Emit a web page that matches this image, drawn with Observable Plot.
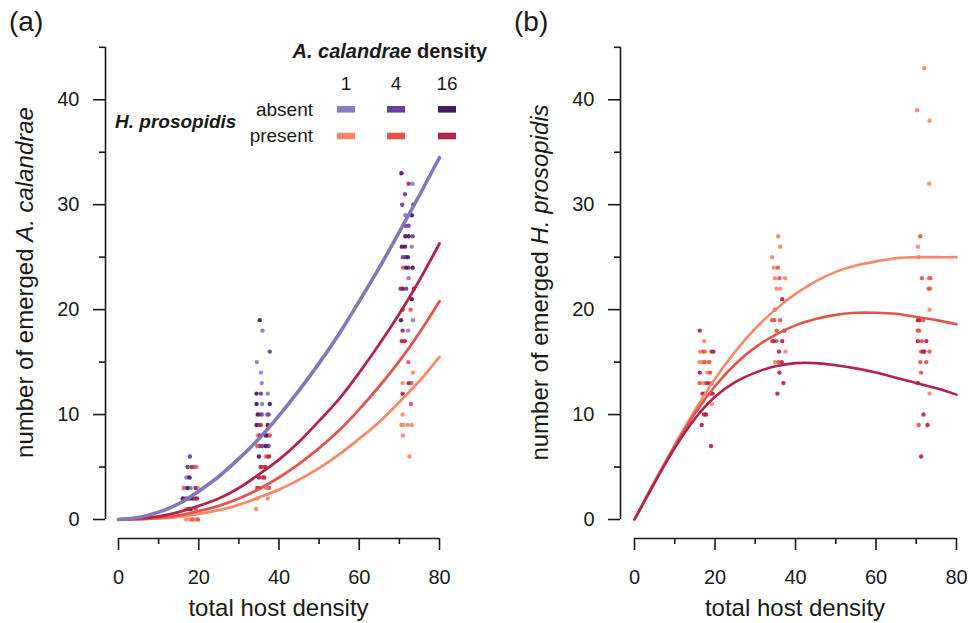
<!DOCTYPE html>
<html><head><meta charset="utf-8">
<script src="https://cdn.jsdelivr.net/npm/d3@7"></script>
<script src="https://cdn.jsdelivr.net/npm/@observablehq/plot@0.6"></script>
<style>
body{margin:0;background:#fff;font-family:"Liberation Sans",Arial,Helvetica,sans-serif;}
#wrap{position:relative;width:970px;height:623px;overflow:hidden;background:#fff}
#pa,#pb{position:absolute;top:0}
#pa{left:0}#pb{left:485px}
#overlay{position:absolute;left:0;top:0;pointer-events:none}
#overlay text{white-space:pre}
</style></head><body>
<div id="wrap"><div id="pa"></div><div id="pb"></div><svg id="overlay" width="970" height="623"></svg></div>
<script>
// ---- categories & colours ----
const groups = ["a1","a4","a16","p1","p4","p16","absent"];
const groupColors = ["#8A7DBF","#6A3F99","#47195D","#F7896A","#E2554D","#B2244A","#8478B8"];
const legendDensities = ["1","4","16"];
const legendRows = ["absent","present"];
const legendGroups = [["a1","a4","a16"],["p1","p4","p16"]];

// ---- ticks ----
const xTicks = [0,20,40,60,80];
const xMinorTicks = [10,30,50,70];
const yTicks = [0,10,20,30,40];
const yMinorTicks = [5,15,25,35,45];

// ---- panel (a): emerged A. calandrae, points [total host density, count] ----
const ptsA_a1 = [[16.9,4],[18.0,3],[35.9,18],[34.5,15],[35.5,14],[35.7,13],[37.2,12],[35.8,11],[35.8,10],[37.0,10],
  [73.3,32],[71.5,29],[73.1,26],[72.3,23],[73.4,19],[72.2,18]];
const ptsA_a4 = [[17.8,6],[17.2,5],[16.8,2],[19.6,2],[37.7,16],[35.5,12],[35.4,10],[37.4,10],[37.2,8],[35.2,7],[35.8,7],[37.4,7],
  [71.4,31],[70.7,30],[71.5,28],[72.3,28],[73.3,27],[70.9,25],[71.5,25],[72.3,24],[71.7,22]];
const ptsA_a16 = [[17.7,4],[17.2,3],[16.0,2],[17.6,2],[18.4,2],[18.0,1],
  [35.2,19],[34.4,12],[34.4,11],[37.7,11],[34.7,10],[34.4,9],[37.2,9],[36.7,8],[36.7,7],[35.0,6],
  [70.5,33],[73.5,30],[73.1,29],[71.5,27],[72.3,27],[70.6,26],[71.4,26],[72.1,25],[71.7,24],[73.3,24],[70.8,22],[73.1,21],[70.4,19]];
const ptsA_p1 = [[19.5,5],[19.8,3],[16.8,1],[16.8,0],[17.7,0],[19.2,0],
  [34.7,8],[36.7,6],[36.7,3],[34.6,2],[37.2,2],[34.3,1],
  [73.4,14],[70.8,13],[70.8,10],[70.5,9],[71.0,9],[72.1,9],[73.1,9],[70.9,8],[72.5,6]];
const ptsA_p4 = [[19.0,5],[16.3,3],[19.2,1],[18.4,0],[19.8,0],
  [35.5,9],[37.7,8],[34.6,7],[37.0,6],[35.8,5],[35.8,4],[35.2,3],[37.5,3],
  [70.9,24],[72.8,20],[72.2,15],[73.0,13],[72.9,11]];
const ptsA_p16 = [[18.2,5],[19.2,3],[19.1,2],[17.4,1],
  [35.2,9],[35.2,8],[37.5,6],[35.4,5],[36.6,5],[35.0,4],[36.3,4],[34.6,3],
  [72.3,32],[70.3,22],[73.6,22],[70.8,20],[70.8,18],[70.6,17],[71.4,17],[72.3,13],[70.8,12]];

// ---- panel (b): emerged H. prosopidis ----
const ptsB_p1 = [[17.3,17],[16.3,16],[17.6,16],[16.1,15],[16.7,15],[17.8,15],[18.1,14],[17.1,13],[19.2,11],
  [35.7,27],[36.2,26],[34.2,25],[34.6,24],[34.9,23],[37.4,23],[35.3,22],[36.2,22],[37.5,16],[34.9,15],
  [72.0,43],[70.2,39],[73.3,38],[73.2,32],[70.4,26],[70.6,25],[73.1,23],[73.5,22],[73.3,20],[73.3,12]];
const ptsB_p4 = [[17.1,16],[17.3,15],[18.6,15],[18.8,14],[16.2,13],[17.8,13],[19.2,13],[17.6,12],
  [35.6,24],[36.0,23],[34.9,20],[34.2,19],[34.7,19],[36.2,19],[35.3,18],[34.2,17],[35.3,17],[35.8,15],
  [71.0,27],[71.4,23],[73.5,23],[73.1,22],[71.7,19],[70.4,18],[70.7,18],[71.4,17],[71.2,16],[73.3,16],[71.0,15],[72.5,15],[71.2,14],[70.6,9]];
const ptsB_p16 = [[16.2,18],[19.2,16],[19.6,16],[16.2,14],[18.3,13],[16.9,12],[18.8,12],[19.4,12],[17.3,10],[17.8,10],[16.7,9],[19.0,7],
  [36.7,21],[37.2,18],[34.6,17],[36.7,17],[35.9,16],[36.6,15],[36.0,14],[37.0,13],[35.5,12],
  [70.4,19],[70.7,19],[70.4,17],[72.5,17],[71.7,16],[72.0,16],[70.4,13],[71.8,10],[72.8,9],[71.2,6]];

// ---- fitted curves ----
const curveX = [0,5,10,15,20,25,30,35,40,45,50,55,60,65,70,75,80];
const fitA_absent = [0,0.2,0.7,1.5,2.7,4.1,5.8,7.7,9.9,12.3,14.9,17.7,20.8,24.0,27.4,30.9,34.5];
const fitA_p16 = [0,0.1,0.3,0.7,1.3,2.0,3.0,4.3,5.7,7.4,9.4,11.5,14.0,16.7,19.6,22.8,26.3];
const fitA_p4 = [0,0.03,0.15,0.4,0.8,1.3,2.0,2.9,4.0,5.3,6.8,8.5,10.5,12.7,15.1,17.8,20.8];
const fitA_p1 = [0,0.02,0.1,0.26,0.53,0.9,1.4,2.1,2.85,3.8,4.9,6.2,7.7,9.3,11.2,13.2,15.5];
const fitB_p1 = [0,3.6,7.1,10.4,13.4,16.0,18.2,20.0,21.5,22.7,23.6,24.2,24.6,24.9,25.0,25.0,25.0];
const fitB_p4 = [0,3.6,7.0,10.1,12.7,14.8,16.4,17.6,18.5,19.1,19.5,19.7,19.7,19.6,19.3,19.0,18.6];
const fitB_p16 = [0,3.5,6.8,9.6,11.7,13.1,14.0,14.6,14.9,14.9,14.7,14.4,14.0,13.5,13.0,12.5,11.9];

// ---- build tables ----
const toDots = list => list.flatMap(([g, pts]) => pts.map(([x, y]) => ({g, x, y})));
const dotsA = toDots([["a1",ptsA_a1],["p1",ptsA_p1],["a4",ptsA_a4],["p4",ptsA_p4],["a16",ptsA_a16],["p16",ptsA_p16]]);
const dotsB = toDots([["p1",ptsB_p1],["p4",ptsB_p4],["p16",ptsB_p16]]);
const linesA = [["p1",fitA_p1],["p4",fitA_p4],["p16",fitA_p16],["absent",fitA_absent]];
const linesB = [["p1",fitB_p1],["p4",fitB_p4],["p16",fitB_p16]];

const FONT = '"Liberation Sans", Arial, Helvetica, sans-serif';
const INK = "#1a1a1a";

function panel(dots, lines, mL, mR, axDx, lineW) {
  const lineMarks = lines.map(([g, ys]) =>
    Plot.line(ys.map((y, i) => ({g, x: curveX[i], y})),
      {x: "x", y: "y", stroke: "g", strokeWidth: g === "absent" ? lineW + 0.8 : lineW, curve: "natural"}));
  return Plot.plot({
    width: 485, height: 623,
    marginLeft: mL, marginRight: mR, marginTop: 46.8, marginBottom: 104,
    x: {domain: [0, 80]},
    y: {domain: [0, 45]},
    color: {domain: groups, range: groupColors},
    style: {fontFamily: FONT, background: "transparent", color: INK, overflow: "visible"},
    marks: [
      Plot.ruleX([0], {y1: 0, y2: 45, dx: axDx, stroke: INK, strokeWidth: 1.6}),
      Plot.ruleY([0], {x1: 0, x2: 80, dy: 19, stroke: INK, strokeWidth: 1.6}),
      Plot.axisY(yTicks, {tickSize: 12, tickPadding: 14, dx: axDx, fontSize: 20, label: null, strokeWidth: 1.6, color: INK}),
      Plot.axisY(yMinorTicks, {tickSize: 6, dx: axDx, fill: "none", label: null, strokeWidth: 1.6, stroke: INK}),
      Plot.axisX(xTicks, {tickSize: 12, tickPadding: 19, dy: 19, fontSize: 20, label: null, strokeWidth: 1.6, color: INK}),
      Plot.axisX(xMinorTicks, {tickSize: 6, dy: 19, fill: "none", label: null, strokeWidth: 1.6, stroke: INK}),
      Plot.dot(dots, {x: "x", y: "y", fill: "g", r: 2.2, stroke: "none", fillOpacity: 0.92}),
      ...lineMarks
    ]
  });
}

document.getElementById("pa").append(panel(dotsA, linesA, 118, 46, -13, 2.8));
document.getElementById("pb").append(panel(dotsB, linesB, 149, 14, -14, 2.6));

// ---- overlay: panel letters, axis titles, legend ----
const ov = d3.select("#overlay").attr("font-family", FONT);
function txt(x, y, parts, size, anchor = "start", transform = null) {
  const t = ov.append("text").attr("x", x).attr("y", y).attr("font-size", size)
    .attr("text-anchor", anchor).attr("fill", INK);
  if (transform) t.attr("transform", transform);
  parts.forEach(([s, st]) => t.append("tspan").text(s)
    .attr("font-style", st.includes("i") ? "italic" : null)
    .attr("font-weight", st.includes("b") ? "bold" : null));
  return t;
}
txt(9, 31, [["(a)", ""]], 28);
txt(514, 31, [["(b)", ""]], 28);
txt(278.5, 616, [["total host density", ""]], 24, "middle");
txt(795, 616, [["total host density", ""]], 24, "middle");
txt(0, 0, [["number of emerged ", ""], ["A. calandrae", "i"]], 24, "middle", "translate(33,282.5) rotate(-90)");
txt(0, 0, [["number of emerged ", ""], ["H. prosopidis", "i"]], 24, "middle", "translate(548,282.5) rotate(-90)");

// legend
const legColX = [346, 396, 447];
const legRowY = [106, 132.7];
txt(487, 58, [["A. calandrae", "bi"], [" density", "b"]], 20, "end");
legendDensities.forEach((d, i) => txt(legColX[i], 90, [[d, ""]], 19, "middle"));
legendRows.forEach((r, j) => txt(313, legRowY[j] + 9.5, [[r, ""]], 19, "end"));
txt(115, 128, [["H. prosopidis", "bi"]], 19, "start");
legendGroups.forEach((row, j) => row.forEach((g, i) =>
  ov.append("rect").attr("x", legColX[i] - 9).attr("y", legRowY[j]).attr("width", 18).attr("height", 6.6)
    .attr("fill", groupColors[groups.indexOf(g)])));
</script>
</body></html>
